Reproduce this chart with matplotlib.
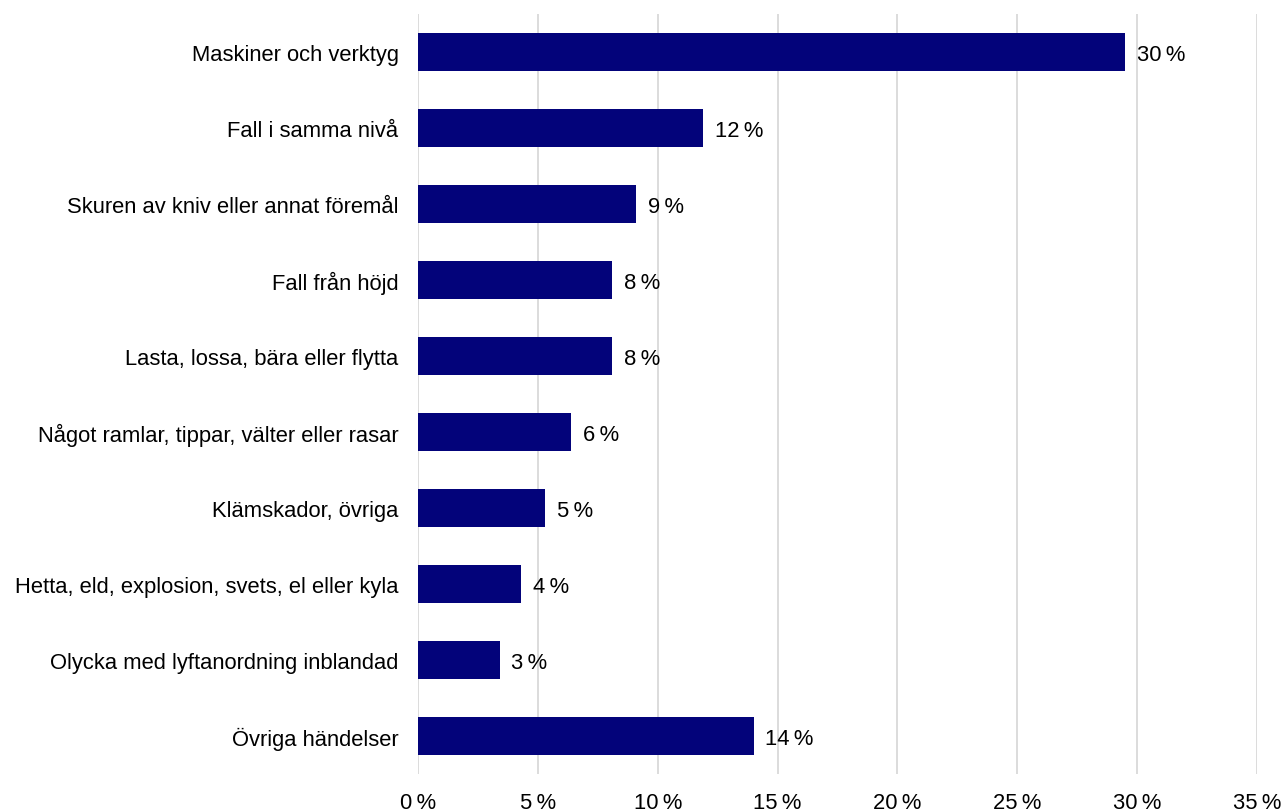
import matplotlib
matplotlib.use('Agg')
from matplotlib import pyplot as plt

plt.rcParams['font.family'] = ['Liberation Sans', 'DejaVu Sans']

categories = ['Maskiner och verktyg',
              'Fall i samma nivå',
              'Skuren av kniv eller annat föremål',
              'Fall från höjd',
              'Lasta, lossa, bära eller flytta',
              'Något ramlar, tippar, välter eller rasar',
              'Klämskador, övriga',
              'Hetta, eld, explosion, svets, el eller kyla',
              'Olycka med lyftanordning inblandad',
              'Övriga händelser']
values = [29.5, 11.9, 9.1, 8.1, 8.1, 6.4, 5.3, 4.3, 3.4, 14.0]
labels = ['30\u2009%', '12\u2009%', '9\u2009%', '8\u2009%', '8\u2009%',
          '6\u2009%', '5\u2009%', '4\u2009%', '3\u2009%', '14\u2009%']
xticks = [0, 5, 10, 15, 20, 25, 30, 35]

fig = plt.figure(figsize=(12.82, 8.12), dpi=100)
ax = fig.add_axes([418/1282, 37/812, (1257-418)/1282, (775-15)/812])

ypos = list(range(len(categories)))
ax.barh(ypos, values, height=0.5, color='#03037a', zorder=3)
for y, v, lab in zip(ypos, values, labels):
    ax.annotate(lab, (v, y), xytext=(8.5, -1.5), textcoords='offset points',
                va='center', ha='left', fontsize=15.8, color='black')

ax.set_ylim(len(categories) - 0.5, -0.5)
ax.set_xlim(0, 35)
ax.set_yticks(ypos)
ax.set_yticklabels(categories, fontsize=15.8)
ax.set_xticks(xticks)
ax.set_xticklabels([f'{t}\u2009%' for t in xticks], fontsize=15.8)
ax.tick_params(axis='y', length=0, pad=14)
ax.tick_params(axis='x', length=0, pad=13)
ax.grid(axis='x', color='#d9d9d9', linewidth=1.3, zorder=0)
for s in ax.spines.values():
    s.set_visible(False)

fig.savefig('out.png', dpi=100)
